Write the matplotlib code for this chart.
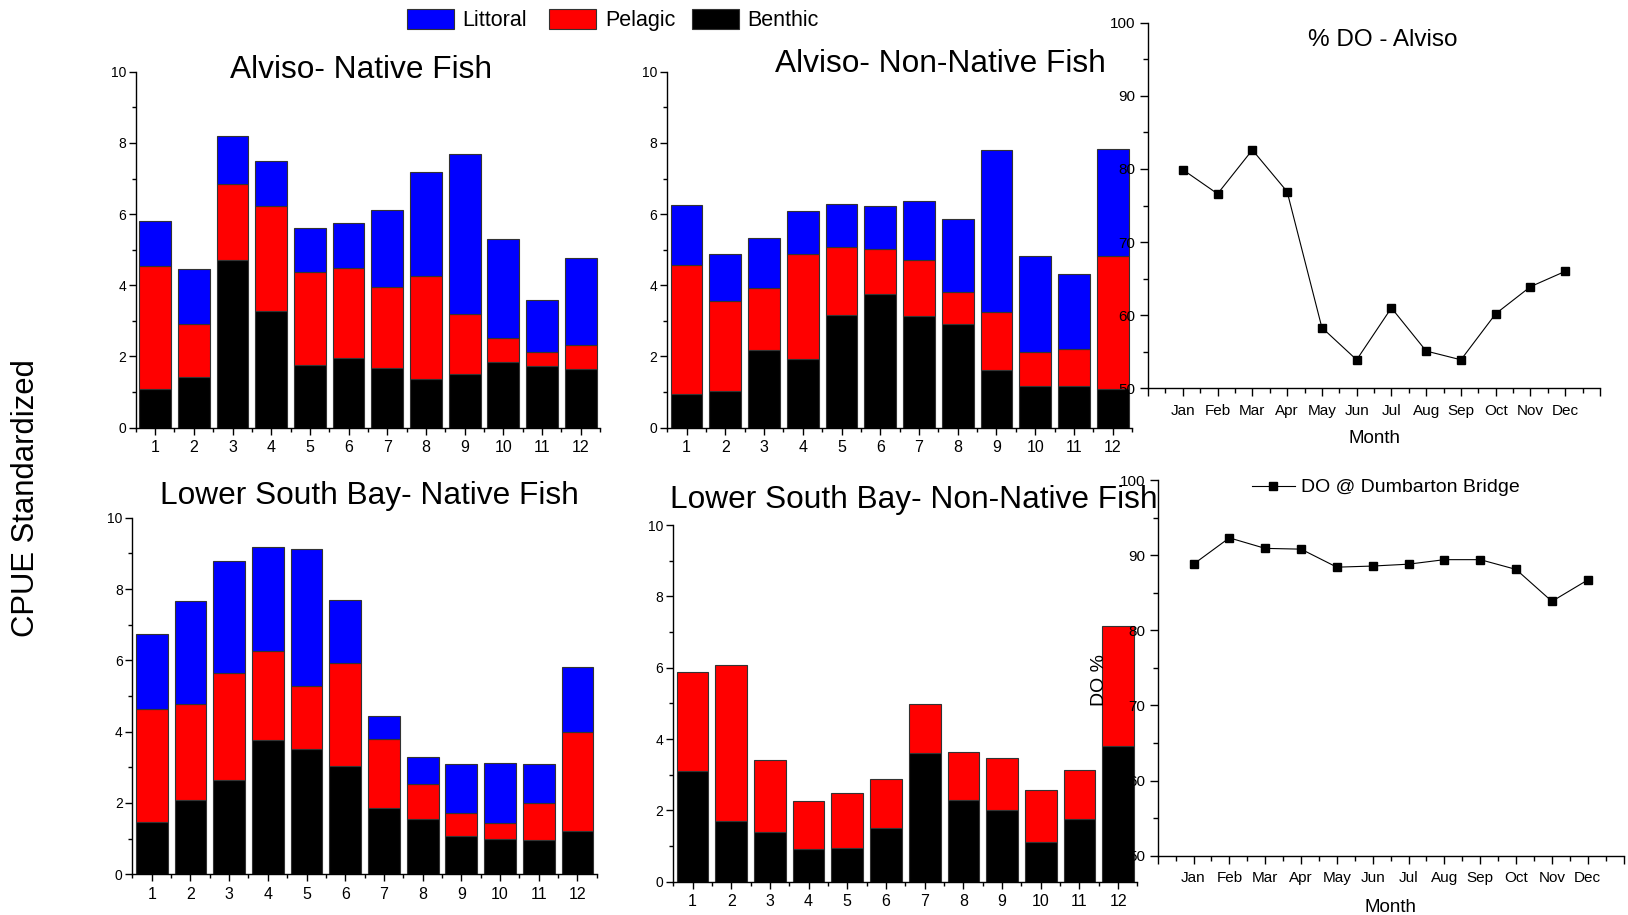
import matplotlib.pyplot as plt
from matplotlib.patches import Patch
from matplotlib.ticker import MultipleLocator, FixedLocator

plt.rcParams["font.family"] = ["Liberation Sans", "DejaVu Sans"]
plt.rcParams["axes.linewidth"] = 1.0

months = list(range(1, 13))
month_names = ["Jan", "Feb", "Mar", "Apr", "May", "Jun",
               "Jul", "Aug", "Sep", "Oct", "Nov", "Dec"]

# CPUE (standardized) per habitat, month 1-12
alviso_native_benthic = [1.10, 1.41, 4.71, 3.27, 1.75, 1.97, 1.69, 1.37, 1.52, 1.84, 1.74, 1.64]
alviso_native_pelagic = [3.45, 1.51, 2.14, 2.97, 2.63, 2.52, 2.27, 2.90, 1.68, 0.67, 0.38, 0.69]
alviso_native_littoral = [1.26, 1.54, 1.34, 1.25, 1.24, 1.27, 2.15, 2.92, 4.50, 2.78, 1.46, 2.43]

alviso_nonnative_benthic = [0.95, 1.02, 2.18, 1.93, 3.16, 3.76, 3.13, 2.90, 1.62, 1.16, 1.18, 1.09]
alviso_nonnative_pelagic = [3.63, 2.53, 1.74, 2.95, 1.91, 1.25, 1.58, 0.91, 1.62, 0.96, 1.02, 3.72]
alviso_nonnative_littoral = [1.67, 1.33, 1.42, 1.20, 1.20, 1.22, 1.65, 2.06, 4.57, 2.71, 2.11, 3.01]

lsb_native_benthic = [1.47, 2.07, 2.64, 3.77, 3.51, 3.04, 1.86, 1.55, 1.08, 1.00, 0.95, 1.21]
lsb_native_pelagic = [3.16, 2.70, 3.00, 2.50, 1.78, 2.89, 1.93, 0.97, 0.63, 0.43, 1.04, 2.77]
lsb_native_littoral = [2.10, 2.89, 3.15, 2.90, 3.84, 1.75, 0.64, 0.78, 1.37, 1.70, 1.09, 1.84]

lsb_nonnative_benthic = [3.09, 1.69, 1.40, 0.92, 0.95, 1.50, 3.61, 2.29, 2.00, 1.11, 1.77, 3.80]
lsb_nonnative_pelagic = [2.80, 4.38, 2.00, 1.35, 1.55, 1.37, 1.36, 1.36, 1.46, 1.45, 1.37, 3.37]
lsb_nonnative_littoral = [0, 0, 0, 0, 0, 0, 0, 0, 0, 0, 0, 0]

# percent dissolved oxygen by month
do_alviso = [79.9, 76.6, 82.6, 76.9, 58.3, 53.9, 61.0, 55.1, 53.9, 60.2, 63.9, 66.0]
do_dumbarton = [88.8, 92.3, 90.9, 90.8, 88.4, 88.55, 88.8, 89.4, 89.4, 88.1, 83.85, 86.7]

colors = {"Littoral": "#0000ff", "Pelagic": "#ff0000", "Benthic": "#000000"}

fig = plt.figure(figsize=(16.28, 9.15), dpi=100)


def bar_panel(rect, benthic, pelagic, littoral, title, tx, ty):
    ax = fig.add_axes(rect)
    ax.patch.set_alpha(0)
    bottom = [0] * 12
    for name, vals in (("Benthic", benthic), ("Pelagic", pelagic),
                       ("Littoral", littoral)):
        if sum(vals) == 0:
            continue
        ax.bar(months, vals, width=0.82, bottom=bottom, color=colors[name],
               edgecolor="#333333", linewidth=0.8)
        bottom = [b + v for b, v in zip(bottom, vals)]
    ax.set_xlim(0.5, 12.5)
    ax.set_ylim(0, 10)
    ax.set_xticks(months)
    ax.xaxis.set_minor_locator(MultipleLocator(0.5))
    ax.yaxis.set_major_locator(MultipleLocator(2))
    ax.yaxis.set_minor_locator(MultipleLocator(1))
    for s in ("top", "right"):
        ax.spines[s].set_visible(False)
    ax.tick_params(which="major", length=5, width=1)
    ax.tick_params(which="minor", length=3, width=1)
    ax.tick_params(axis="y", labelsize=10, pad=2)
    ax.tick_params(axis="x", labelsize=11.5, pad=4)
    ax.text(tx, ty, title, transform=ax.transAxes, ha="center", va="baseline",
            fontsize=22.8)
    return ax


def do_panel(rect, values, title=None, legend=None):
    ax = fig.add_axes(rect)
    ax.patch.set_alpha(0)
    ax.plot(months, values, color="black", lw=0.8, marker="s",
            markersize=6, label=legend)
    ax.set_xlim(0, 13)
    ax.set_ylim(50, 100)
    ax.xaxis.set_major_locator(FixedLocator(range(0, 14)))
    ax.set_xticklabels([""] + month_names + [""])
    ax.xaxis.set_minor_locator(MultipleLocator(0.5))
    ax.yaxis.set_major_locator(MultipleLocator(10))
    ax.yaxis.set_minor_locator(MultipleLocator(5))
    for s in ("top", "right"):
        ax.spines[s].set_visible(False)
    ax.tick_params(which="major", length=6, width=1, labelsize=11, pad=3)
    ax.tick_params(axis="x", which="major", pad=5)
    ax.tick_params(which="minor", length=3.5, width=1)
    ax.text(0.5, -0.149, "Month", transform=ax.transAxes, ha="center",
            va="baseline", fontsize=13.5)
    if title:
        ax.text(0.519, 0.937, title, transform=ax.transAxes, ha="center",
                va="baseline", fontsize=17.5)
    if legend:
        ax.legend(loc="center", bbox_to_anchor=(0.49, 0.98), frameon=False,
                  fontsize=14, handlelength=2.2, handletextpad=0.35,
                  borderpad=0, borderaxespad=0)
    return ax


bar_panel([0.0834, 0.5326, 0.2852, 0.389], alviso_native_benthic,
          alviso_native_pelagic, alviso_native_littoral,
          "Alviso- Native Fish", 0.485, 0.981)
bar_panel([0.4098, 0.5326, 0.2856, 0.389], alviso_nonnative_benthic,
          alviso_nonnative_pelagic, alviso_nonnative_littoral,
          "Alviso- Non-Native Fish", 0.587, 0.998)
bar_panel([0.0813, 0.0445, 0.2853, 0.3897], lsb_native_benthic,
          lsb_native_pelagic, lsb_native_littoral,
          "Lower South Bay- Native Fish", 0.51, 1.038)
bar_panel([0.4135, 0.0364, 0.2852, 0.3898], lsb_nonnative_benthic,
          lsb_nonnative_pelagic, lsb_nonnative_littoral,
          "Lower South Bay- Non-Native Fish", 0.518, 1.0485)

# oxygen panels are transparent and sit over the bar panels
do_panel([0.7052, 0.5756, 0.2776, 0.3996], do_alviso, title="% DO - Alviso")
ax6 = do_panel([0.7111, 0.0648, 0.2862, 0.4106], do_dumbarton,
               legend="DO @ Dumbarton Bridge")
ax6.text(-0.125, 0.468, "DO %", transform=ax6.transAxes, rotation=90,
         ha="center", va="center", fontsize=14)

fig.text(0.016, 0.456, "CPUE Standardized", rotation=90, ha="center",
         va="center", fontsize=22.3)

# habitat key along the top, one entry per box
for name, x in (("Littoral", 406.7), ("Pelagic", 549.0), ("Benthic", 691.7)):
    fig.legend(handles=[Patch(facecolor=colors[name], edgecolor="#333333",
                              linewidth=0.8, label=name)],
               loc="center left", bbox_to_anchor=(x / 1628, 1 - 20 / 915),
               frameon=False, fontsize=15.5, handlelength=2.2,
               handleheight=1.1, handletextpad=0.4, borderpad=0,
               borderaxespad=0)

fig.savefig("out.png", dpi=100)
